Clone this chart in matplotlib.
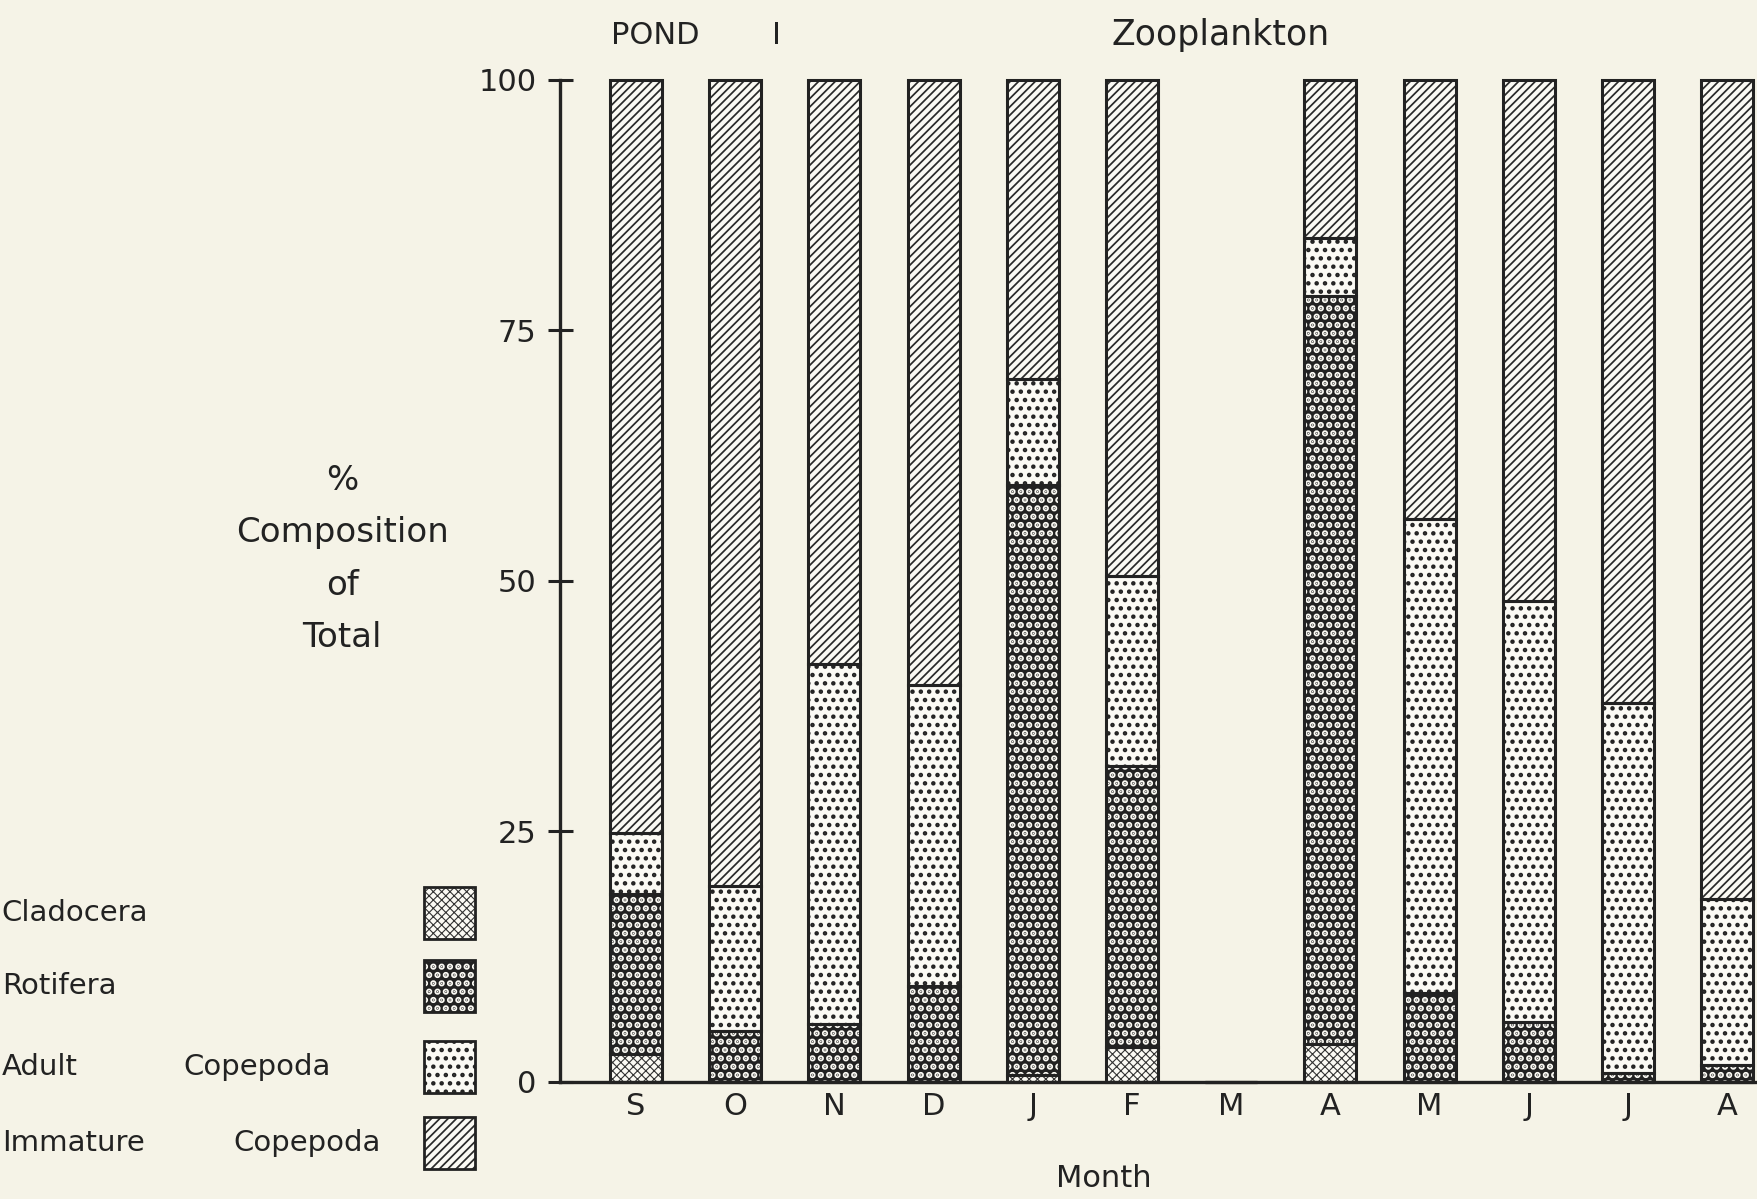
import matplotlib
matplotlib.use('Agg')
import matplotlib.pyplot as plt
from matplotlib.patches import Rectangle
import numpy as np

plt.rcParams['font.family'] = ['DejaVu Sans']

# data (percent composition)
months = ['S', 'O', 'N', 'D', 'J', 'F', 'M', 'A', 'M', 'J', 'J', 'A']
cladocera = [2.8, 0, 0, 0, 0.7, 3.5, 0, 3.8, 0, 0, 0, 0]
rotifera = [16.0, 5.1, 5.8, 9.6, 58.9, 28.0, 0, 74.6, 8.9, 6.0, 0.9, 1.7]
adult_cop = [6.0, 14.5, 35.9, 30.0, 10.6, 19.0, 0, 5.8, 47.3, 42.0, 36.9, 16.6]
immature_cop = [75.2, 80.4, 58.3, 60.4, 29.8, 49.5, 0, 15.8, 43.8, 52.0, 62.2, 81.7]

legend_labels = ['Cladocera', 'Rotifera', 'Adult Copepoda', 'Immature Copepoda']

bg = '#f5f3e7'
ink = '#222222'
face = '#fbfaf4'

# (face, hatch colour, hatch, hatch linewidth)
styles = [
    (face, '#333333', 'xxxx', 0.8),
    (ink, face, '..', 3.2),
    (face, ink, '..', 2.0),
    (face, '#2a2a2a', '////', 1.25),
]

fig = plt.figure(figsize=(17.57, 11.99), dpi=100, facecolor=bg)
ax = fig.add_axes([0.3187, 0.0976, 0.6813, 0.8357])
ax.set_facecolor(bg)

x = np.arange(len(months))
width = 0.525
series = [cladocera, rotifera, adult_cop, immature_cop]
bottom = np.zeros(len(months))
for vals, (fc, hc, hatch, hlw) in zip(series, styles):
    vals = np.array(vals, dtype=float)
    with plt.rc_context({'hatch.linewidth': hlw}):
        bars = ax.bar(x, vals, width, bottom=bottom, color=fc, edgecolor=hc,
                      hatch=hatch, linewidth=0, clip_on=False, zorder=2)
    for b in bars:
        if hasattr(b, 'set_hatch_linewidth'):
            b.set_hatch_linewidth(hlw)
    ax.bar(x, vals, width, bottom=bottom, fill=False, edgecolor=ink,
           linewidth=2.2, clip_on=False, zorder=3)
    bottom += vals

ax.set_xlim(-0.766, 11.30)
ax.set_ylim(0, 100)
ax.set_xticks(x)
ax.set_xticklabels(months)
ax.set_yticks([0, 25, 50, 75, 100])
ax.set_yticklabels(['0', '25', '50', '75', '100'])
ax.tick_params(axis='x', length=0, pad=7, labelsize=22, colors=ink)
ax.tick_params(axis='y', direction='inout', length=18, width=2.2, pad=8,
               labelsize=22, colors=ink)
for s in ['top', 'right']:
    ax.spines[s].set_visible(False)
for s in ['left', 'bottom']:
    ax.spines[s].set_linewidth(2.4)
    ax.spines[s].set_color(ink)

ax.set_ylabel('%\nComposition\nof\nTotal', rotation=0, fontsize=24.5,
              ha='center', va='center', linespacing=1.75, color=ink)
ax.yaxis.set_label_coords(-0.182, 0.522)
ax.set_xlabel('Month', fontsize=22, color=ink, va='center')
ax.xaxis.set_label_coords(0.4545, -0.0968)

# titles
fig.text(0.3478, 0.9708, 'POND', fontsize=22, va='center', ha='left', color=ink)
fig.text(0.4417, 0.9708, 'I', fontsize=22, va='center', ha='center', color=ink)
fig.text(0.695, 0.9708, 'Zooplankton', fontsize=25, va='center', ha='center', color=ink)

# legend drawn at left, text then swatch
row_y = [0.2385, 0.1777, 0.1101, 0.0467]
second_x = [None, None, 0.1042, 0.1326]
for lab, yy, sx, (fc, hc, hatch, hlw) in zip(legend_labels, row_y, second_x, styles):
    words = lab.split(' ')
    fig.text(0.001, yy, words[0], fontsize=21, va='center', ha='left', color=ink)
    if sx is not None:
        fig.text(sx, yy, words[1], fontsize=21, va='center', ha='left', color=ink)
    with plt.rc_context({'hatch.linewidth': hlw}):
        r = Rectangle((0.2413, yy - 0.0217), 0.029, 0.0434, transform=fig.transFigure,
                      facecolor=fc, edgecolor=hc, hatch=hatch, linewidth=0)
    if hasattr(r, 'set_hatch_linewidth'):
        r.set_hatch_linewidth(hlw)
    fig.patches.append(r)
    fig.patches.append(Rectangle((0.2413, yy - 0.0217), 0.029, 0.0434,
                                 transform=fig.transFigure, fill=False,
                                 edgecolor=ink, linewidth=2.0))

fig.savefig('out.png', dpi=100, facecolor=bg)
